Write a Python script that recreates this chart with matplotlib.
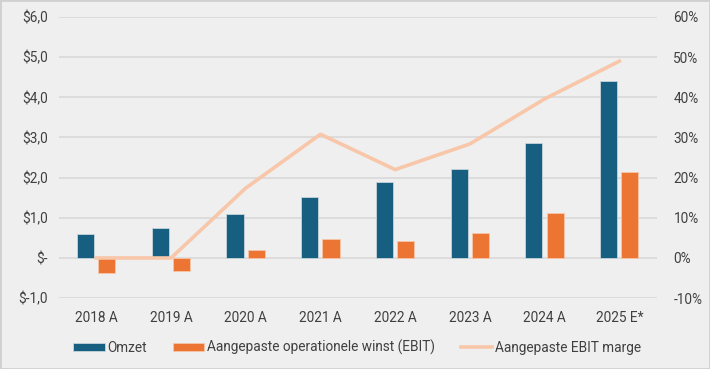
import numpy as np
import matplotlib.pyplot as plt
from matplotlib.patches import Rectangle

plt.rcParams['font.family'] = ['Roboto', 'DejaVu Sans']

years = ["2018 A", "2019 A", "2020 A", "2021 A", "2022 A", "2023 A", "2024 A", "2025 E*"]
omzet = [0.60, 0.74, 1.09, 1.53, 1.90, 2.21, 2.86, 4.40]
ebit = [-0.37, -0.33, 0.19, 0.47, 0.42, 0.63, 1.12, 2.14]
marge = [0.0, 0.0, 17.4, 30.8, 22.0, 28.4, 39.6, 49.0]

bg = "#efefef"
blue = "#175f81"
orange = "#ed7534"
peach = "#f8c6a8"
txt = "#404040"

fig = plt.figure(figsize=(7.1, 3.69), dpi=100, facecolor=bg)
ax = fig.add_axes([0.083, 0.192, 0.842, 0.762])
ax.set_facecolor(bg)
x = np.arange(len(years))
w = 0.23
ax.bar(x - 0.145, omzet, w, color=blue, edgecolor="#c8d4dc", linewidth=0.6, label="Omzet", zorder=3)
ax.bar(x + 0.14, ebit, w, color=orange, edgecolor="#f6c6a8", linewidth=0.6,
       label="Aangepaste operationele winst (EBIT)", zorder=3)
ax.set_ylim(-1, 6)
ax.set_xlim(-0.5, len(years) - 0.5)
ax.set_yticks(range(-1, 7))


def dollar(v):
    if v == 0:
        return "$-"
    return "$" + f"{v:.1f}".replace(".", ",")


ax.set_yticklabels([dollar(v) for v in range(-1, 7)])
ax.set_xticks(x)
ax.set_xticklabels(years)
ax.grid(axis="y", color="#d9d9d9", linewidth=1.2, zorder=0)
ax.tick_params(length=0, labelsize=9.8, colors=txt, pad=8)
ax.tick_params(axis="x", pad=9)
for s in ax.spines.values():
    s.set_visible(False)

ax2 = ax.twinx()
ax2.plot(x, marge, color=peach, linewidth=2.6, label="Aangepaste EBIT marge", zorder=4)
ax2.set_ylim(-10, 60)
ax2.set_yticks(range(-10, 61, 10))
ax2.set_yticklabels([f"{v}%" for v in range(-10, 61, 10)])
ax2.tick_params(length=0, labelsize=9.8, colors=txt, pad=12)
for s in ax2.spines.values():
    s.set_visible(False)

h1, l1 = ax.get_legend_handles_labels()
h2, l2 = ax2.get_legend_handles_labels()
leg = fig.legend(h1 + h2, l1 + l2, loc="center", bbox_to_anchor=(0.503, 0.058), ncol=3,
                 frameon=False, fontsize=9.8, handlelength=2.3, handleheight=0.6,
                 columnspacing=1.9, handletextpad=0.2, labelcolor=txt)

fig.patches.append(Rectangle((0, 0), 1, 1, transform=fig.transFigure, fill=False,
                             edgecolor="#d0d0d0", linewidth=2))

fig.savefig("out.png", dpi=100, facecolor=bg)
